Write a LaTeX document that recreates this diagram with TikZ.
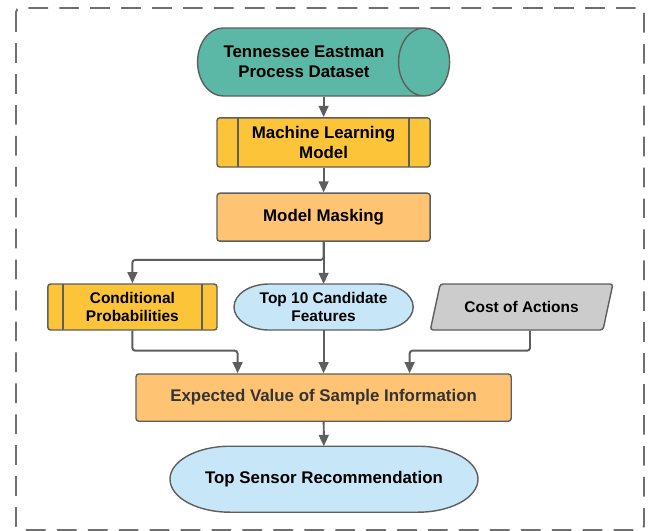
\documentclass[tikz,border=0pt]{standalone}
\usepackage{fontspec}
\setmainfont{Liberation Sans}
\usetikzlibrary{shapes.geometric,arrows.meta,positioning}
\pgfdeclarelayer{background}
\pgfsetlayers{background,main}
\definecolor{linegray}{RGB}{94,94,94}
\definecolor{bordergray}{RGB}{112,112,112}
\definecolor{tealfill}{RGB}{91,184,167}
\definecolor{mlyellow}{RGB}{252,196,56}
\definecolor{softorange}{RGB}{255,195,116}
\definecolor{paleblue}{RGB}{199,230,247}
\definecolor{actgray}{RGB}{204,204,204}
\tikzstyle{big}=[font=\bfseries\fontsize{12}{14}\selectfont]
\tikzstyle{small}=[font=\bfseries\fontsize{11}{13}\selectfont]
\tikzstyle{box}=[draw=linegray, line width=1pt, rounded corners=2pt, align=center]
\tikzstyle{flow}=[draw=linegray, line width=1.4pt, rounded corners=2pt,
    -{Triangle[width=7pt,length=8pt]}]
\tikzset{proc/.style={box, fill=mlyellow,
    path picture={
      \draw[linegray, line width=1pt] ([xshift=#1]path picture bounding box.north west) -- ([xshift=#1]path picture bounding box.south west);
      \draw[linegray, line width=1pt] ([xshift=-#1]path picture bounding box.north east) -- ([xshift=-#1]path picture bounding box.south east);
    }}}

\begin{document}
\begin{tikzpicture}[thick]
  \useasboundingbox (0,0) rectangle (16.3,-13.275);
  \draw[line width=1.4pt, bordergray, dash pattern=on 14pt off 8pt, rounded corners=3pt]
      (0.4,-0.2) rectangle (16.1,-13.25);

  \node[draw=linegray, line width=1pt, cylinder, shape aspect=1.25, cylinder uses custom fill,
      cylinder body fill=tealfill, cylinder end fill=tealfill, minimum width=1.7cm,
      minimum height=6.3cm, align=center] at (7.6,-1.55) (data)[big] {Tennessee Eastman\\Process Dataset};
  \node[proc=0.525cm, minimum width=5.33cm, minimum height=1.23cm] at (8.09,-3.56) (ml)[big] {Machine Learning\\Model};
  \node[box, fill=softorange, minimum width=5.33cm, minimum height=1.2cm] at (8.09,-5.43) (mask)[big] {Model Masking};

  \node[proc=0.375cm, minimum width=4.23cm, minimum height=1.15cm] at (3.31,-7.675) (cond)[small] {Conditional\\Probabilities};
  \node[align=center, outer sep=0pt, minimum width=4.48cm, minimum height=1.15cm] at (8.09,-7.675) (top)[small] {Top 10 Candidate\\Features};
  \node[box, trapezium, trapezium left angle=70, trapezium right angle=110, trapezium stretches=true,
      fill=actgray, minimum width=4.58cm, minimum height=1.15cm] at (13.04,-7.675) (cost)[small] {Cost of Actions};

  \node[box, fill=softorange, text=black!80, minimum width=9.38cm, minimum height=1.18cm] at (8.09,-9.94) (evsi)[big] {Expected Value of Sample Information};
  \node[align=center, outer sep=0pt, minimum width=7.7cm, minimum height=1.65cm] at (8.1,-11.98) (rec)[big] {Top Sensor Recommendation};

  % stadium outlines
  \begin{pgfonlayer}{background}
    \path[draw=linegray, line width=1pt, fill=paleblue]
        ([xshift=0.875cm]top.north west) -- ([xshift=-0.875cm]top.north east)
        arc[start angle=90, end angle=-90, x radius=0.875cm, y radius=0.575cm]
        -- ([xshift=0.875cm]top.south west)
        arc[start angle=270, end angle=90, x radius=0.875cm, y radius=0.575cm] -- cycle;
    \path[draw=linegray, line width=1pt, fill=paleblue]
        ([xshift=1.5cm]rec.north west) -- ([xshift=-1.5cm]rec.north east)
        arc[start angle=90, end angle=-90, x radius=1.5cm, y radius=0.825cm]
        -- ([xshift=1.5cm]rec.south west)
        arc[start angle=270, end angle=90, x radius=1.5cm, y radius=0.825cm] -- cycle;
  \end{pgfonlayer}

  \path (evsi.north) +(-2.15,0) coordinate (in1);
  \path (evsi.north) +(2.15,0) coordinate (in3);
  \path (cost.south) +(0.21,0) coordinate (out3);

  \draw[flow] (data.south -| ml.north) -- (ml);
  \draw[flow] (ml) -- (mask);
  \draw[flow] (mask) -- (top);
  \draw[flow] (mask.south) -- ++(0,-0.45) -| (cond.north);
  \draw[flow] (cond.south) -- ++(0,-0.5) -| (in1);
  \draw[flow] (top) -- (evsi);
  \draw[flow] (out3) -- ++(0,-0.5) -| (in3);
  \draw[flow] (evsi) -- (rec);
\end{tikzpicture}
\end{document}
